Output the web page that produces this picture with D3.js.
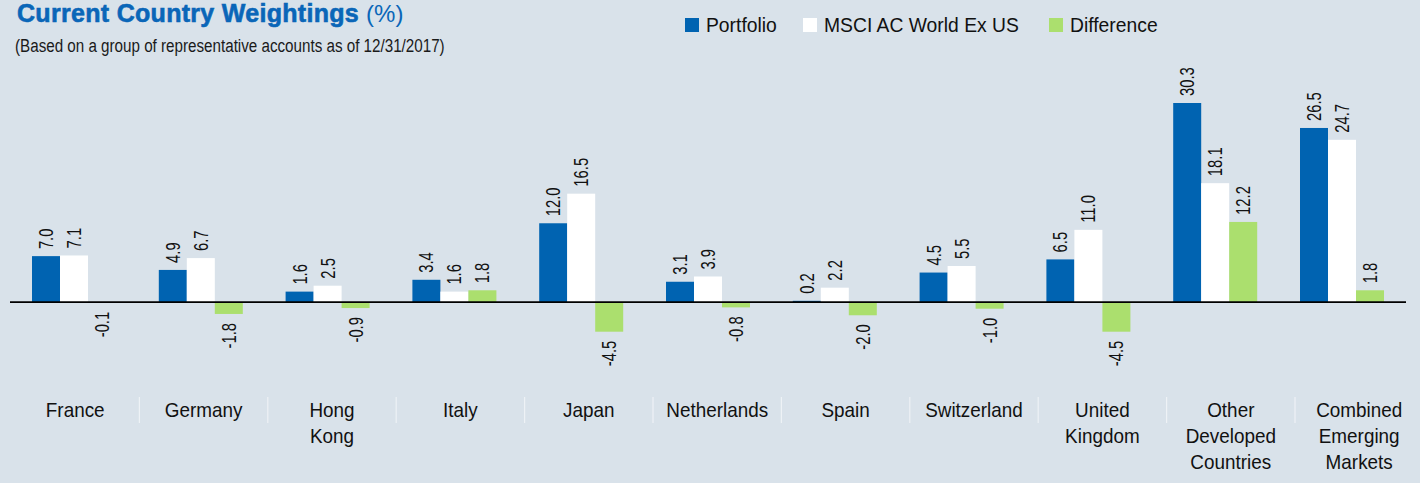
<!DOCTYPE html>
<html>
<head>
<meta charset="utf-8">
<script src="https://cdn.jsdelivr.net/npm/d3@7"></script>
<style>
  html, body { margin: 0; padding: 0; background: #d9e2ea; }
  svg { display: block; }
</style>
</head>
<body>
<div id="chart"></div>
<script>
// Data
const categories = [
    ['France'], ['Germany'], ['Hong', 'Kong'], ['Italy'], ['Japan'], ['Netherlands'],
    ['Spain'], ['Switzerland'], ['United', 'Kingdom'], ['Other', 'Developed', 'Countries'],
    ['Combined', 'Emerging', 'Markets']
];
const seriesNames = ['Portfolio', 'MSCI AC World Ex US', 'Difference'];
const portfolio = [7.0, 4.9, 1.6, 3.4, 12.0, 3.1, 0.2, 4.5, 6.5, 30.3, 26.5];
const benchmark = [7.1, 6.7, 2.5, 1.6, 16.5, 3.9, 2.2, 5.5, 11.0, 18.1, 24.7];
const difference = [-0.1, -1.8, -0.9, 1.8, -4.5, -0.8, -2.0, -1.0, -4.5, 12.2, 1.8];

const width = 1420, height = 483;
const sans = '"Liberation Sans", Arial, sans-serif';
const colors = ['#0063b1', '#ffffff', '#abdf6e'];

const svg = d3.select('#chart').append('svg')
    .attr('width', width)
    .attr('height', height);

svg.append('rect').attr('width', width).attr('height', height).attr('fill', '#d9e2ea');

// Title
const title = svg.append('text')
    .attr('x', 17)
    .attr('y', 22)
    .style('font-family', sans)
    .style('font-size', '25px')
    .style('fill', '#0a66b8');
title.append('tspan')
    .style('font-weight', 'bold')
    .style('letter-spacing', '0.3px')
    .style('stroke', '#0a66b8')
    .style('stroke-width', '0.6px')
    .text('Current Country Weightings');
title.append('tspan').attr('dx', 7).style('font-size', '24px').text('(%)');

// subtitle (condensed look via horizontal scale)
svg.append('text')
    .attr('transform', 'translate(15,52) scale(0.8,1)')
    .style('font-family', sans)
    .style('font-size', '19px')
    .style('fill', '#1a1a1a')
    .text('(Based on a group of representative accounts as of 12/31/2017)');

// Legend
const legendX = [685, 803, 1049];
seriesNames.forEach((name, i) => {
    svg.append('rect')
        .attr('x', legendX[i]).attr('y', 18)
        .attr('width', 14).attr('height', 14)
        .attr('fill', colors[i]);
    svg.append('text')
        .attr('transform', `translate(${legendX[i] + 21},32) scale(0.92,1)`)
        .style('font-family', sans)
        .style('font-size', '21px')
        .style('fill', '#111')
        .text(name);
});

// Scales
const idx = d3.range(categories.length);
const x0 = d3.scaleBand().domain(idx).range([10.6, 1405.4]).paddingInner(0).paddingOuter(0);
const x1 = d3.scaleBand().domain([0, 1, 2]).range([(x0.bandwidth() - 84) / 2, (x0.bandwidth() + 84) / 2]);
const y = d3.scaleLinear().domain([-4.5, 30.3]).range([331.7, 103]);
const xl = d3.scaleBand().domain(idx).range([11, 11 + 11 * 128.4]);

const series = [portfolio, benchmark, difference];

const groups = svg.append('g').selectAll('g')
    .data(idx)
    .join('g')
    .attr('transform', d => `translate(${x0(d)},0)`);

series.forEach((vals, s) => {
    groups.append('rect')
        .attr('x', x1(s))
        .attr('width', x1.bandwidth())
        .attr('y', d => y(Math.max(0, vals[d])))
        .attr('height', d => Math.abs(y(vals[d]) - y(0)))
        .attr('fill', colors[s]);

    groups.append('text')
        .attr('transform', d => {
            const cx = x1(s) + x1.bandwidth() / 2;
            const cy = vals[d] >= 0 ? y(vals[d]) - 7 : y(vals[d]) + 9;
            return `translate(${cx},${cy}) rotate(-90) scale(0.76,1)`;
        })
        .attr('dy', '0.36em')
        .attr('text-anchor', d => vals[d] >= 0 ? 'start' : 'end')
        .style('font-family', sans)
        .style('font-size', '19.5px')
        .style('fill', '#111')
        .text(d => vals[d].toFixed(1));
});

// Zero line
svg.append('line')
    .attr('x1', 10).attr('x2', 1406)
    .attr('y1', y(0)).attr('y2', y(0))
    .attr('stroke', '#000')
    .attr('stroke-width', 1.6);

// Category labels
const labels = svg.append('g').selectAll('text')
    .data(idx)
    .join('text')
    .attr('transform', d => `translate(${xl(d) + xl.bandwidth() / 2},417) scale(0.9,1)`)
    .attr('text-anchor', 'middle')
    .style('font-family', sans)
    .style('font-size', '21px')
    .style('fill', '#111');
labels.selectAll('tspan')
    .data(d => categories[d])
    .join('tspan')
    .attr('x', 0)
    .attr('dy', (d, i) => i === 0 ? 0 : 26)
    .text(d => d);

// Separators
svg.append('g').selectAll('line')
    .data(idx.slice(1))
    .join('line')
    .attr('x1', d => xl(d)).attr('x2', d => xl(d))
    .attr('y1', 397).attr('y2', 423)
    .attr('stroke', '#eef2f6')
    .attr('stroke-width', 1.2);
</script>
</body>
</html>
